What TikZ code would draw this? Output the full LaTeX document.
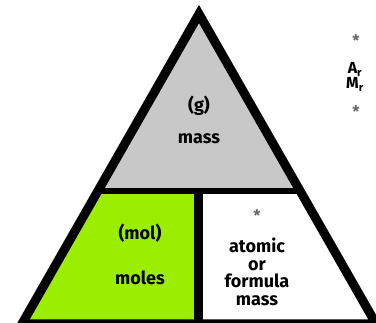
\documentclass[tikz,border=0pt]{standalone}
\usepackage{fontspec}
\setmainfont{Fira Sans}
\usepackage{tikz}
\definecolor{molgreen}{RGB}{155,238,0}
\definecolor{massgray}{RGB}{200,200,200}

\begin{document}
\begin{tikzpicture}[x=1pt,y=1pt,
  lbl/.style={align=center,font=\fontsize{18}{17.5}\selectfont\bfseries,inner sep=0pt},
  ast/.style={font=\fontsize{16}{16}\selectfont\bfseries,text=black!60,inner sep=0pt}]
\useasboundingbox (0,0) rectangle (376,323);
\coordinate (top) at (199,309);
\coordinate (bl) at (21.9,-1);
\coordinate (br) at (376.1,-1);
\coordinate (ml) at (99.0,132);
\coordinate (mr) at (299.0,132);
\coordinate (mc) at (198.5,132);
\coordinate (bc) at (198.5,-1);
\fill[massgray] (top)--(ml)--(mr)--cycle;
\fill[molgreen] (ml)--(mc)--(bc)--(bl)--cycle;
\fill[white] (mc)--(mr)--(br)--(bc)--cycle;
\draw[line width=6pt] (ml)--(mr);
\draw[line width=9pt] (mc)--(bc);
\draw[line width=9pt,line join=miter] (top)--(br)--(bl)--cycle;
\node[lbl] (g) at (199,217) {(g)};
\node[lbl] (mass) at (199,184) {mass};
\node[lbl] (mol) at (140,90) {(mol)};
\node[lbl] (moles) at (140,45) {moles};
\node[ast] (s1) at (257,107) {*};
\node[lbl] (amf) at (257,51) {atomic\\or\\formula\\mass};
\node[ast] (s2) at (356,282) {*};
\node[lbl,font=\fontsize{16}{15}\selectfont\bfseries] (armr) at (355,246) {A\textsubscript{r}\\M\textsubscript{r}};
\node[ast] (s3) at (356,211) {*};
\end{tikzpicture}
\end{document}
